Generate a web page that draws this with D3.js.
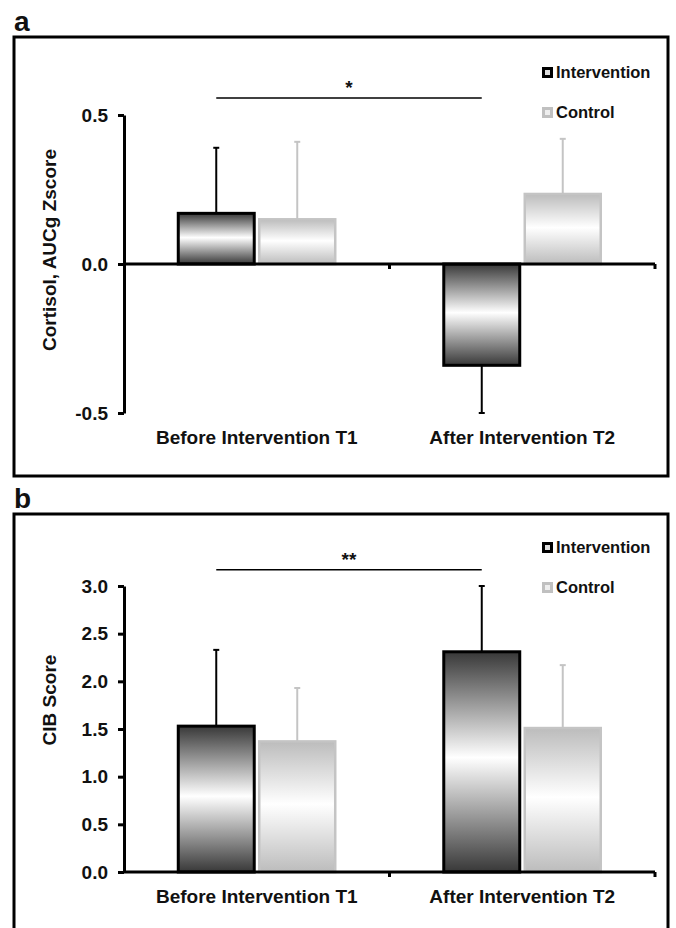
<!DOCTYPE html>
<html>
<head>
<meta charset="utf-8">
<script src="https://cdn.jsdelivr.net/npm/d3@7"></script>
<style>
  body { margin: 0; background: #fff; }
  svg text { font-family: "Liberation Sans", Arial, sans-serif; font-weight: bold; fill: #111; }
</style>
</head>
<body>
<div id="graphic"></div>
<script>
var categories = ["Before Intervention T1", "After Intervention T2"];
var seriesNames = ["Intervention", "Control"];

// panel a: cortisol AUCg z-scores (mean, SD)
var cortisolIntervention = [0.17, -0.34];
var cortisolInterventionErr = [0.22, 0.16];
var cortisolControl = [0.15, 0.235];
var cortisolControlErr = [0.26, 0.185];
var cortisolTicks = [-0.5, 0, 0.5];

// panel b: CIB score (mean, SD)
var cibIntervention = [1.53, 2.31];
var cibInterventionErr = [0.80, 0.69];
var cibControl = [1.37, 1.51];
var cibControlErr = [0.56, 0.66];
var cibTicks = [0, 0.5, 1, 1.5, 2, 2.5, 3];

var svg = d3.select("#graphic").append("svg").attr("width", 676).attr("height", 928);

var fmt = d3.formatLocale({ decimal: ".", thousands: ",", grouping: [3], currency: ["", ""], minus: "-" }).format(".1f");

var defs = svg.append("defs");
function addGradient(id, edge) {
  var g = defs.append("linearGradient").attr("id", id)
    .attr("x1", 0).attr("y1", 0).attr("x2", 0).attr("y2", 1);
  g.append("stop").attr("offset", "0%").attr("stop-color", edge);
  g.append("stop").attr("offset", "48%").attr("stop-color", "#fff");
  g.append("stop").attr("offset", "100%").attr("stop-color", edge);
}
addGradient("gradInt", "#383838");
addGradient("gradCtl", "#bcbcbc");

var styles = {
  Intervention: { fill: "url(#gradInt)", stroke: "#000", width: 3, err: "#000" },
  Control: { fill: "url(#gradCtl)", stroke: "#c4c4c4", width: 2.5, err: "#c4c4c4" }
};

function drawPanel(p) {
  var g = svg.append("g");

  g.append("rect").attr("x", 14).attr("y", p.frameTop).attr("width", 654)
    .attr("height", p.frameBottom - p.frameTop)
    .attr("fill", "none").attr("stroke", "#000").attr("stroke-width", 3);

  g.append("text").attr("x", 14).attr("y", p.frameTop - 6)
    .style("font-size", "28px").text(p.letter);

  var y = d3.scaleLinear().domain(p.domain).range([p.bottom, p.top]);
  var x = d3.scaleBand().domain(categories).range([124, 655]);
  var xs = d3.scaleBand().domain(seriesNames).range([0, x.bandwidth()])
    .paddingInner(0.062).paddingOuter(0.67);

  var rows = [];
  categories.forEach(function(c, i) {
    rows.push({ cat: c, s: "Intervention", v: p.intervention[i], e: p.interventionErr[i] });
    rows.push({ cat: c, s: "Control", v: p.control[i], e: p.controlErr[i] });
  });

  // error bars (one-sided, away from zero)
  var eb = g.selectAll(".err").data(rows).enter().append("g");
  eb.append("line")
    .attr("x1", function(d) { return x(d.cat) + xs(d.s) + xs.bandwidth() / 2; })
    .attr("x2", function(d) { return x(d.cat) + xs(d.s) + xs.bandwidth() / 2; })
    .attr("y1", function(d) { return y(d.v); })
    .attr("y2", function(d) { return y(d.v + (d.v < 0 ? -d.e : d.e)); })
    .attr("stroke", function(d) { return styles[d.s].err; }).attr("stroke-width", 2);
  eb.append("line")
    .attr("x1", function(d) { return x(d.cat) + xs(d.s) + xs.bandwidth() / 2 - 3; })
    .attr("x2", function(d) { return x(d.cat) + xs(d.s) + xs.bandwidth() / 2 + 3; })
    .attr("y1", function(d) { return y(d.v + (d.v < 0 ? -d.e : d.e)); })
    .attr("y2", function(d) { return y(d.v + (d.v < 0 ? -d.e : d.e)); })
    .attr("stroke", function(d) { return styles[d.s].err; }).attr("stroke-width", 2);

  g.selectAll(".bar").data(rows).enter().append("rect")
    .attr("x", function(d) { return x(d.cat) + xs(d.s); })
    .attr("width", xs.bandwidth())
    .attr("y", function(d) { return y(Math.max(0, d.v)); })
    .attr("height", function(d) { return Math.abs(y(d.v) - y(0)); })
    .attr("fill", function(d) { return styles[d.s].fill; })
    .attr("stroke", function(d) { return styles[d.s].stroke; })
    .attr("stroke-width", function(d) { return styles[d.s].width; });

  // y axis
  var ya = g.append("g").attr("transform", "translate(124,0)")
    .call(d3.axisLeft(y).tickValues(p.ticks).tickFormat(fmt)
      .tickSize(6).tickSizeOuter(0).tickPadding(10));
  ya.selectAll("path, line").attr("stroke", "#000").attr("stroke-width", 3);
  ya.selectAll("text").style("font-size", "19px").attr("fill", "#111");

  // x axis at zero, ticks at category boundaries
  g.append("line").attr("x1", 124).attr("x2", 655).attr("y1", y(0)).attr("y2", y(0))
    .attr("stroke", "#000").attr("stroke-width", 3);
  g.selectAll(".xt").data(categories).enter().append("line")
    .attr("x1", function(d) { return x(d) + x.bandwidth(); })
    .attr("x2", function(d) { return x(d) + x.bandwidth(); })
    .attr("y1", y(0)).attr("y2", y(0) + 5)
    .attr("stroke", "#000").attr("stroke-width", 3);

  g.selectAll(".cat").data(categories).enter().append("text")
    .attr("x", function(d) { return x(d) + x.bandwidth() / 2; })
    .attr("y", p.bottom + 31).attr("text-anchor", "middle")
    .style("font-size", "19px").text(function(d) { return d; });

  g.append("text")
    .attr("transform", "translate(56," + p.titleY + ") rotate(-90)")
    .attr("text-anchor", "middle").style("font-size", "19px").text(p.title);

  // significance bracket between intervention bars
  var sx1 = x(categories[0]) + xs("Intervention") + xs.bandwidth() / 2;
  var sx2 = x(categories[1]) + xs("Intervention") + xs.bandwidth() / 2;
  g.append("line").attr("x1", sx1).attr("x2", sx2)
    .attr("y1", y(p.sigLevel)).attr("y2", y(p.sigLevel))
    .attr("stroke", "#000").attr("stroke-width", 1.5);
  g.append("text").attr("x", (sx1 + sx2) / 2).attr("y", y(p.sigLevel) - 4)
    .attr("text-anchor", "middle").style("font-size", "19px")
    .text(p.sigMark);

  // legend
  var lg = g.selectAll(".leg").data(seriesNames).enter().append("g")
    .attr("transform", function(d, i) { return "translate(542," + (p.legendTop + i * 40) + ")"; });
  lg.append("rect").attr("x", 1.5).attr("y", 1.5).attr("width", 8).attr("height", 8)
    .attr("fill", function(d) { return d === "Intervention" ? "#ddd" : "#eee"; })
    .attr("stroke", function(d) { return d === "Intervention" ? "#000" : "#c0c0c0"; })
    .attr("stroke-width", 3);
  lg.append("text").attr("x", 14).attr("y", 10.5).style("font-size", "16.5px")
    .text(function(d) { return d; });
}

drawPanel({
  letter: "a", frameTop: 37, frameBottom: 476,
  domain: [-0.5, 0.5], top: 115, bottom: 413, ticks: cortisolTicks,
  intervention: cortisolIntervention, interventionErr: cortisolInterventionErr,
  control: cortisolControl, controlErr: cortisolControlErr,
  title: "Cortisol, AUCg Zscore", titleY: 250,
  sigLevel: 0.557, sigMark: "*", legendTop: 67
});

drawPanel({
  letter: "b", frameTop: 514, frameBottom: 940,
  domain: [0, 3], top: 586, bottom: 872, ticks: cibTicks,
  intervention: cibIntervention, interventionErr: cibInterventionErr,
  control: cibControl, controlErr: cibControlErr,
  title: "CIB Score", titleY: 700,
  sigLevel: 3.17, sigMark: "**", legendTop: 542
});
</script>
</body>
</html>
